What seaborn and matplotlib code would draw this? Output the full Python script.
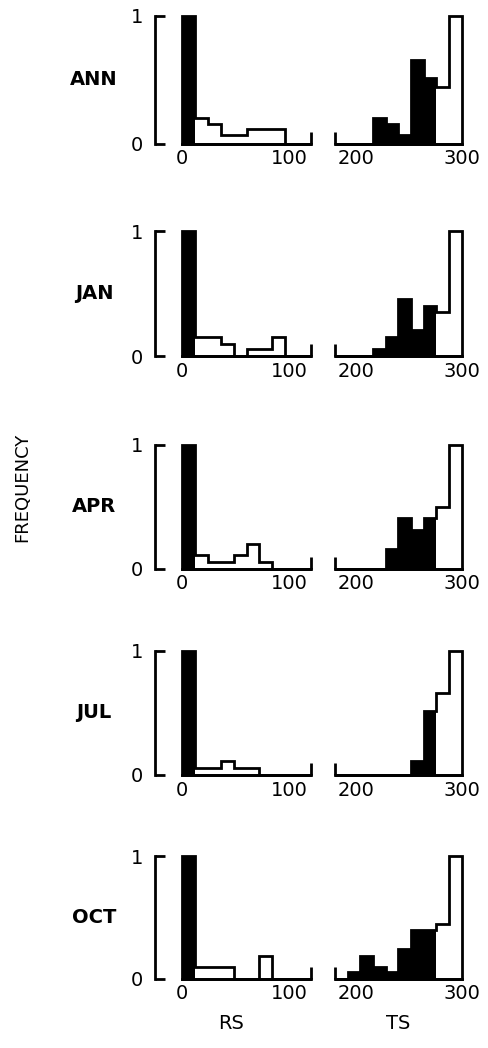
import numpy as np
import matplotlib
matplotlib.use("Agg")
import matplotlib.pyplot as plt
import seaborn as sns

# Bin edges of the two variables (12-unit classes)
rs_edges = [0, 12, 24, 36, 48, 60, 72, 84, 96, 108, 120]
ts_edges = [180, 192, 204, 216, 228, 240, 252, 264, 276, 288, 300]

# Bins below these limits are shaded
rs_split = 12
ts_split = 276

months = ["ANN", "JAN", "APR", "JUL", "OCT"]

# Relative frequency per bin (scaled so the largest bin is 1)
rs_ann = [1.0, 0.20, 0.15, 0.065, 0.065, 0.11, 0.11, 0.11, 0.0, 0.0]
rs_jan = [1.0, 0.15, 0.15, 0.10, 0.0, 0.06, 0.06, 0.15, 0.0, 0.0]
rs_apr = [1.0, 0.11, 0.055, 0.055, 0.11, 0.20, 0.05, 0.0, 0.0, 0.0]
rs_jul = [1.0, 0.06, 0.06, 0.11, 0.06, 0.06, 0.0, 0.0, 0.0, 0.0]
rs_oct = [1.0, 0.09, 0.09, 0.09, 0.0, 0.0, 0.18, 0.0, 0.0, 0.0]

ts_ann = [0.0, 0.0, 0.0, 0.20, 0.15, 0.065, 0.65, 0.51, 0.44, 1.0]
ts_jan = [0.0, 0.0, 0.0, 0.06, 0.15, 0.46, 0.21, 0.40, 0.35, 1.0]
ts_apr = [0.0, 0.0, 0.0, 0.0, 0.16, 0.41, 0.31, 0.41, 0.50, 1.0]
ts_jul = [0.0, 0.0, 0.0, 0.0, 0.0, 0.0, 0.11, 0.52, 0.66, 1.0]
ts_oct = [0.0, 0.05, 0.185, 0.095, 0.05, 0.24, 0.395, 0.395, 0.445, 1.0]

rs_values = [rs_ann, rs_jan, rs_apr, rs_jul, rs_oct]
ts_values = [ts_ann, ts_jan, ts_apr, ts_jul, ts_oct]

sns.set_theme(style="white")
plt.rcParams["font.family"] = ["DejaVu Sans"]
plt.rcParams.update({
    "axes.linewidth": 2.0,
    "axes.edgecolor": "black",
    "text.color": "black",
    "axes.labelcolor": "black",
    "xtick.color": "black",
    "ytick.color": "black",
})

W, H = 488, 1048
fig = plt.figure(figsize=(W / 100, H / 100), dpi=100)
fig.patch.set_facecolor("white")

# panel rows in pixels: (top, bottom)
rows_px = [(15.5, 143.5), (231, 356), (444.5, 568.5), (651, 775), (856, 978.5)]
rs_px = (182, 311)
ts_px = (335, 461.5)

LW = 2.0
TICK_FS = 14
PX = 72 / 100  # points per pixel


def draw_hist(ax, edges, values, split):
    edge_arr = np.asarray(edges, dtype=float)
    vals = np.asarray(values, dtype=float)
    centers = (edge_arr[:-1] + edge_arr[1:]) / 2
    shaded = np.where(edge_arr[:-1] < split, vals, 0.0)
    bins = list(edges)
    # shaded part
    sns.histplot(x=centers, weights=shaded, bins=bins, element="step",
                 fill=True, color="black", alpha=1, linewidth=0,
                 ax=ax, clip_on=False)
    # outline of the full distribution
    sns.histplot(x=centers, weights=vals, bins=bins, element="step",
                 fill=True, color="black", facecolor="none",
                 edgecolor="black", linewidth=LW, ax=ax, clip_on=False,
                 joinstyle="miter")
    ax.set_xlim(edges[0], edges[-1])
    ax.set_ylim(0, 1)
    ax.set_xlabel("")
    ax.set_ylabel("")
    ax.set_facecolor("none")
    for s in ("top", "right"):
        ax.spines[s].set_visible(False)


for i, (month, (top, bot)) in enumerate(zip(months, rows_px)):
    b = 1 - bot / H
    h = (bot - top) / H
    ax_rs = fig.add_axes([rs_px[0] / W, b, (rs_px[1] - rs_px[0]) / W, h])
    ax_ts = fig.add_axes([ts_px[0] / W, b, (ts_px[1] - ts_px[0]) / W, h])

    draw_hist(ax_rs, rs_edges, rs_values[i], rs_split)
    draw_hist(ax_ts, ts_edges, ts_values[i], ts_split)

    # frequency axis as a bracket left of the RS panel
    ax_rs.spines["left"].set_position(("outward", 27 * PX))
    ax_rs.set_yticks([0, 1])
    ax_rs.set_yticklabels(["0", "1"])
    ax_rs.tick_params(axis="y", direction="in", length=10 * PX, width=LW,
                      pad=12 * PX, labelsize=TICK_FS, left=True)
    ax_ts.spines["left"].set_visible(False)
    ax_ts.set_yticks([])

    # x axes with end markers pointing up
    ax_rs.set_xticks([0, 100])
    ax_rs.set_xticklabels(["0", "100"])
    ax_rs.set_xticks([rs_edges[-1]], minor=True)
    ax_ts.set_xticks([200, 300])
    ax_ts.set_xticklabels(["200", "300"])
    ax_ts.set_xticks([ts_edges[0]], minor=True)
    for ax in (ax_rs, ax_ts):
        ax.tick_params(axis="x", which="major", length=0, pad=4,
                       labelsize=TICK_FS, bottom=True)
        ax.tick_params(axis="x", which="minor", direction="in",
                       length=12 * PX, width=LW, bottom=True)
        ax.spines["bottom"].set_capstyle("projecting")
        ax.spines["left"].set_capstyle("projecting")

    fig.text(94 / W, 1 - (top + bot) / 2 / H, month, ha="center", va="center",
             fontsize=14, fontweight="bold")

    if i == len(months) - 1:
        ax_rs.set_xlabel("RS", fontsize=TICK_FS)
        ax_ts.set_xlabel("TS", fontsize=TICK_FS)
        ax_rs.xaxis.set_label_coords(0.38, -0.29)
        ax_ts.xaxis.set_label_coords(0.5, -0.29)

fig.text(22 / W, 1 - 487 / H, "FREQUENCY", rotation=90, ha="center",
         va="center", fontsize=13)

fig.savefig("out.png", dpi=100, facecolor="white")
